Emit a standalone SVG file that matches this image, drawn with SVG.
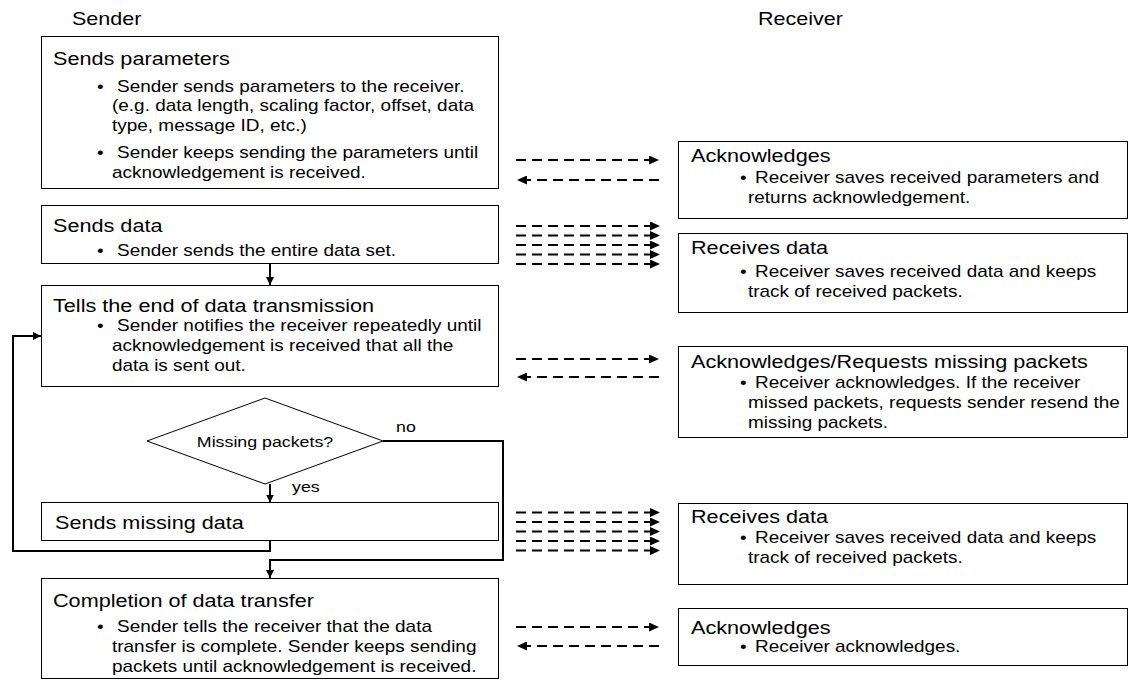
<svg xmlns="http://www.w3.org/2000/svg" width="1128" height="680" viewBox="0 0 1128 680">
<style>
text{font-family:"Liberation Sans",Arial,sans-serif;fill:#000}
.h{font-size:18.4px}
.t{font-size:18.5px}
.b{font-size:16.2px}
.s{font-size:15.2px}
.box{fill:#fff;stroke:#000;stroke-width:1}
.c{fill:none;stroke:#000;stroke-width:2}
.d{fill:none;stroke:#000;stroke-width:2.2;stroke-dasharray:10 6}
</style>
<defs>
<marker id="ah" markerUnits="userSpaceOnUse" markerWidth="8" markerHeight="8" refX="8" refY="4" orient="auto"><path d="M0,0 L8,4 L0,8 z" fill="#000"/></marker>
<marker id="dh" markerUnits="userSpaceOnUse" markerWidth="10" markerHeight="9" refX="10" refY="4.5" orient="auto"><path d="M0,0 L10,4.5 L0,9 z" fill="#000"/></marker>
</defs>
<rect width="1128" height="680" fill="#fff"/>
<g id="headers">
<text class="h" transform="translate(72 25) scale(1.17 1)">Sender</text>
<text class="h" transform="translate(758 25) scale(1.17 1)">Receiver</text>
</g>
<g id="connectors">
<path class="c" d="M270,264 V285" marker-end="url(#ah)"/>
<path class="c" d="M270,484 V502.5" marker-end="url(#ah)"/>
<path class="c" d="M383,441 H503 V560 H270 V578" marker-end="url(#ah)"/>
<path class="c" d="M270,541 V551 H13 V336 H41" marker-end="url(#ah)"/>
<path class="d" d="M516,160 H659" marker-end="url(#dh)"/>
<path class="d" d="M659,180 H517" marker-end="url(#dh)"/>
<path class="d" d="M516,226 H660" marker-end="url(#dh)"/>
<path class="d" d="M516,235.5 H660" marker-end="url(#dh)"/>
<path class="d" d="M516,245 H660" marker-end="url(#dh)"/>
<path class="d" d="M516,254.5 H660" marker-end="url(#dh)"/>
<path class="d" d="M516,264 H660" marker-end="url(#dh)"/>
<path class="d" d="M516,359 H659" marker-end="url(#dh)"/>
<path class="d" d="M659,377 H517" marker-end="url(#dh)"/>
<path class="d" d="M516,512.5 H660" marker-end="url(#dh)"/>
<path class="d" d="M516,522 H660" marker-end="url(#dh)"/>
<path class="d" d="M516,531.5 H660" marker-end="url(#dh)"/>
<path class="d" d="M516,541 H660" marker-end="url(#dh)"/>
<path class="d" d="M516,550.5 H660" marker-end="url(#dh)"/>
<path class="d" d="M516,627 H659" marker-end="url(#dh)"/>
<path class="d" d="M659,646 H517" marker-end="url(#dh)"/>
</g>
<g id="sends-parameters">
<rect class="box" x="41.5" y="36.5" width="457" height="152"/>
<text class="t" transform="translate(53 65) scale(1.17 1)">Sends parameters</text>
<text class="b" transform="translate(97 92) scale(1.17 1)">•</text>
<text class="b" transform="translate(117 92) scale(1.17 1)">Sender sends parameters to the receiver.</text>
<text class="b" transform="translate(112 111) scale(1.17 1)">(e.g. data length, scaling factor, offset, data</text>
<text class="b" transform="translate(112 131) scale(1.17 1)">type, message ID, etc.)</text>
<text class="b" transform="translate(97 158) scale(1.17 1)">•</text>
<text class="b" transform="translate(117 158) scale(1.17 1)">Sender keeps sending the parameters until</text>
<text class="b" transform="translate(112 178) scale(1.17 1)">acknowledgement is received.</text>
</g>
<g id="sends-data">
<rect class="box" x="41.5" y="205.5" width="457" height="58"/>
<text class="t" transform="translate(53 232) scale(1.17 1)">Sends data</text>
<text class="b" transform="translate(97 256) scale(1.17 1)">•</text>
<text class="b" transform="translate(117 256) scale(1.17 1)">Sender sends the entire data set.</text>
</g>
<g id="tells-end">
<rect class="box" x="41.5" y="285.5" width="457" height="101"/>
<text class="t" transform="translate(53 312) scale(1.17 1)">Tells the end of data transmission</text>
<text class="b" transform="translate(97 331) scale(1.17 1)">•</text>
<text class="b" transform="translate(117 331) scale(1.17 1)">Sender notifies the receiver repeatedly until</text>
<text class="b" transform="translate(112 351) scale(1.17 1)">acknowledgement is received that all the</text>
<text class="b" transform="translate(112 371) scale(1.17 1)">data is sent out.</text>
</g>
<g id="missing-decision">
<polygon points="147,441 265,398 383,441 265,484" fill="#fff" stroke="#000" stroke-width="1"/>
<text class="s" text-anchor="middle" transform="translate(265 447) scale(1.17 1)">Missing packets?</text>
<text class="s" transform="translate(396 432) scale(1.17 1)">no</text>
<text class="s" transform="translate(292 492) scale(1.17 1)">yes</text>
</g>
<g id="sends-missing">
<rect class="box" x="41.5" y="502.5" width="457" height="38"/>
<text class="t" transform="translate(55 529) scale(1.17 1)">Sends missing data</text>
</g>
<g id="completion">
<rect class="box" x="41.5" y="578.5" width="457" height="100"/>
<text class="t" transform="translate(53 607) scale(1.17 1)">Completion of data transfer</text>
<text class="b" transform="translate(97 632) scale(1.17 1)">•</text>
<text class="b" transform="translate(117 632) scale(1.17 1)">Sender tells the receiver that the data</text>
<text class="b" transform="translate(112 652) scale(1.17 1)">transfer is complete. Sender keeps sending</text>
<text class="b" transform="translate(112 672) scale(1.17 1)">packets until acknowledgement is received.</text>
</g>
<g id="ack-params">
<rect class="box" x="678.5" y="141.5" width="449" height="77"/>
<text class="t" transform="translate(691 162) scale(1.17 1)">Acknowledges</text>
<text class="b" transform="translate(740 183) scale(1.17 1)">•</text>
<text class="b" transform="translate(755 183) scale(1.17 1)">Receiver saves received parameters and</text>
<text class="b" transform="translate(748 203) scale(1.17 1)">returns acknowledgement.</text>
</g>
<g id="receives-data-1">
<rect class="box" x="678.5" y="233.5" width="449" height="79"/>
<text class="t" transform="translate(691 254) scale(1.17 1)">Receives data</text>
<text class="b" transform="translate(740 277) scale(1.17 1)">•</text>
<text class="b" transform="translate(755 277) scale(1.17 1)">Receiver saves received data and keeps</text>
<text class="b" transform="translate(748 297) scale(1.17 1)">track of received packets.</text>
</g>
<g id="ack-requests">
<rect class="box" x="678.5" y="346.5" width="449" height="91"/>
<text class="t" transform="translate(691 368) scale(1.17 1)">Acknowledges/Requests missing packets</text>
<text class="b" transform="translate(740 388) scale(1.17 1)">•</text>
<text class="b" transform="translate(755 388) scale(1.17 1)">Receiver acknowledges. If the receiver</text>
<text class="b" transform="translate(748 408) scale(1.17 1)">missed packets, requests sender resend the</text>
<text class="b" transform="translate(748 428) scale(1.17 1)">missing packets.</text>
</g>
<g id="receives-data-2">
<rect class="box" x="678.5" y="503.5" width="449" height="81"/>
<text class="t" transform="translate(691 523) scale(1.17 1)">Receives data</text>
<text class="b" transform="translate(740 543) scale(1.17 1)">•</text>
<text class="b" transform="translate(755 543) scale(1.17 1)">Receiver saves received data and keeps</text>
<text class="b" transform="translate(748 563) scale(1.17 1)">track of received packets.</text>
</g>
<g id="ack-final">
<rect class="box" x="678.5" y="608.5" width="449" height="57"/>
<text class="t" transform="translate(691 634) scale(1.17 1)">Acknowledges</text>
<text class="b" transform="translate(740 652) scale(1.17 1)">•</text>
<text class="b" transform="translate(755 652) scale(1.17 1)">Receiver acknowledges.</text>
</g>
</svg>
